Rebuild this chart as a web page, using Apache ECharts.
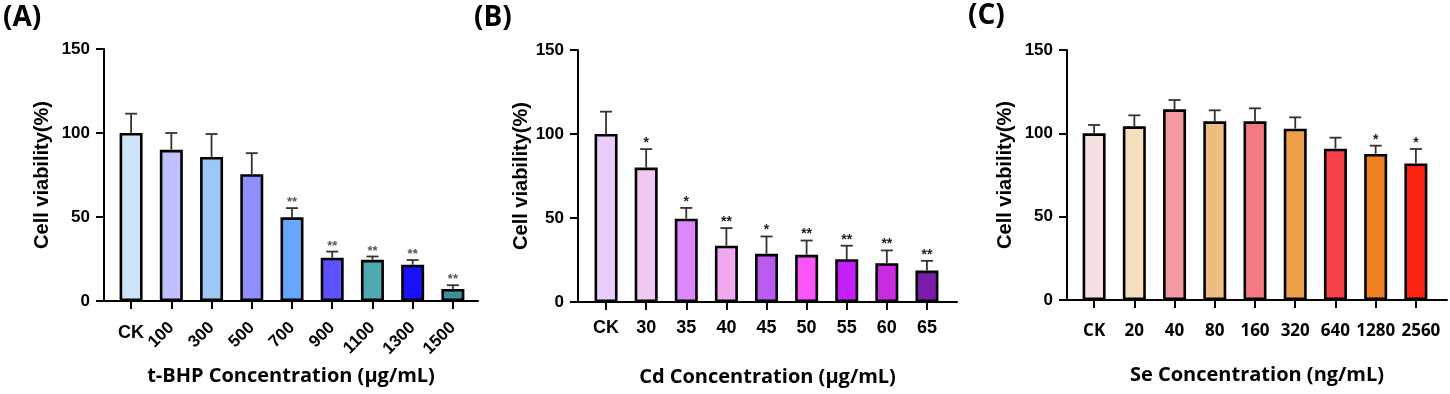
<!DOCTYPE html>
<html>
<head>
<meta charset="utf-8">
<script src="https://cdn.jsdelivr.net/npm/echarts@6/dist/echarts.min.js"></script>
<style>
html,body{margin:0;padding:0;background:#fff;}
#c{width:1450px;height:394px;}
</style>
</head>
<body>
<div id="c"></div>
<script>
// ---------- DATA ----------
const catA = ['CK','100','300','500','700','900','1100','1300','1500'];
const meanA = [100, 90, 85.7, 75.5, 49.8, 25.8, 24.5, 21.6, 7.2];
const sdA = [11.5, 10, 13.7, 12.5, 5.5, 3.6, 2, 2.8, 2.2];
const sigA = ['', '', '', '', '**', '**', '**', '**', '**'];

const catB = ['CK','30','35','40','45','50','55','60','65'];
const meanB = [100, 80, 49.6, 33.5, 28.7, 28.1, 25.5, 23.1, 18.7];
const sdB = [13.3, 11, 6.4, 10.5, 10.3, 8.5, 8, 7.6, 5.8];
const sigB = ['', '*', '*', '**', '*', '**', '**', '**', '**'];

const catC = ['CK','20','40','80','160','320','640','1280','2560'];
const meanC = [100, 104.2, 114.4, 107.2, 107.2, 102.8, 90.8, 87.6, 81.9];
const sdC = [5, 6.6, 5.6, 6.6, 7.8, 6.8, 6.6, 5, 8.7];
const sigC = ['', '', '', '', '', '', '', '*', '*'];

const yTicks = [0, 50, 100, 150];
const yTitle = 'Cell viability(%)';
const xTitleA = 't-BHP Concentration (μg/mL)';
const xTitleB = 'Cd Concentration (μg/mL)';
const xTitleC = 'Se Concentration (ng/mL)';
const panelLabels = ['(A)', '(B)', '(C)'];

// ---------- STYLE ----------
const palA = ['#cfe3f8','#c0c0ff','#9cc7f6','#8f8ffd','#66a6fd','#5c52fe','#4fa9b1','#1a10fb','#3d9098'];
const palB = ['#eacdfb','#f2c9f2','#dc88fb','#f0a9ee','#b95bef','#f955f8','#c41ff8','#c82ce2','#7a1bab'];
const palC = ['#f6dfe1','#f6dfbd','#f29aa1','#eebd81','#f27a83','#eda049','#f4414a','#f08122','#fd2311'];

const ARIAL = '"Liberation Sans", Arial, sans-serif';
const OPEN = '"Open Sans", "Noto Sans", sans-serif';

const panels = [
  {cat:catA, mean:meanA, sd:sdA, sig:sigA, pal:palA, xTitle:xTitleA,
   frame:{left:104, top:49, width:374, height:252}, bars:{left:111, top:49, width:362, height:252},
   rot:true, labelFont:ARIAL, labelSize:17, labelMargin:23, sigColor:'#555', sigSize:13, nameGap:52},
  {cat:catB, mean:meanB, sd:sdB, sig:sigB, pal:palB, xTitle:xTitleB,
   frame:{left:578, top:50, width:379, height:252}, bars:{left:586, top:50, width:361, height:252},
   rot:false, labelFont:ARIAL, labelSize:18, labelMargin:17, sigColor:'#222', sigSize:14, nameGap:46},
  {cat:catC, mean:meanC, sd:sdC, sig:sigC, pal:palC, xTitle:xTitleC,
   frame:{left:1067, top:50, width:380, height:250}, bars:{left:1074, top:50, width:362, height:250},
   rot:false, labelFont:OPEN, labelSize:17, labelMargin:23, sigColor:'#222', sigSize:14, nameGap:52, shiftLast:true}
];

const grid = [], xAxis = [], yAxis = [], series = [];

panels.forEach((p, k) => {
  const gF = grid.length;
  grid.push(Object.assign({containLabel:false}, p.frame));
  const gB = grid.length;
  grid.push(Object.assign({containLabel:false}, p.bars));

  // frame axes
  const xF = xAxis.length;
  xAxis.push({gridIndex:gF, type:'value', min:0, max:1, position:'bottom',
    axisLine:{show:true, lineStyle:{color:'#000', width:2}},
    axisTick:{show:false}, axisLabel:{show:false}, splitLine:{show:false},
    name:p.xTitle, nameLocation:'middle', nameGap:65,
    nameTextStyle:{fontFamily:OPEN, fontWeight:'bold', fontSize:20, color:'#000'}});
  const yF = yAxis.length;
  yAxis.push({gridIndex:gF, type:'value', min:yTicks[0], max:yTicks[yTicks.length-1], interval:yTicks[1]-yTicks[0],
    axisLine:{show:true, lineStyle:{color:'#000', width:2}},
    axisTick:{show:true, length:8, lineStyle:{color:'#000', width:2}},
    axisLabel:{margin:14, fontFamily:ARIAL, fontWeight:'bold', fontSize:17, color:'#000'},
    splitLine:{show:false},
    name:yTitle, nameLocation:'middle', nameRotate:90, nameGap:p.nameGap,
    nameTextStyle:{fontFamily:ARIAL, fontWeight:'bold', fontSize:20, color:'#000'}});
  series.push({type:'scatter', xAxisIndex:xF, yAxisIndex:yF, data:[], silent:true});

  // bar axes
  const xB = xAxis.length;
  const lastCat = p.cat[p.cat.length - 1];
  xAxis.push({gridIndex:gB, type:'category', data:p.cat, position:'bottom', boundaryGap:true,
    axisLine:{show:false},
    axisTick:{show:true, alignWithLabel:true, length:8, lineStyle:{color:'#000', width:2}},
    axisLabel:{interval:0, margin:p.rot ? 24 : p.labelMargin, rotate:p.rot ? 45 : 0,
      fontFamily:p.labelFont, fontWeight:'bold', fontSize:p.labelSize, color:'#000',
      rich:{s:{fontFamily:p.labelFont, fontWeight:'bold', fontSize:p.labelSize, color:'#000', padding:[0,0,0,10]}},
      formatter: p.rot ? (v => v === 'CK' ? '' : v) : (v => (p.shiftLast && v === lastCat) ? '{s|' + v + '}' : v)},
    splitLine:{show:false}});
  if (p.rot) {
    xAxis.push({gridIndex:gB, type:'category', data:p.cat, position:'bottom', boundaryGap:true,
      axisLine:{show:false}, axisTick:{show:false}, splitLine:{show:false},
      axisLabel:{interval:0, margin:p.labelMargin, rotate:0, fontFamily:p.labelFont, fontWeight:'bold',
        fontSize:18, color:'#000', formatter: v => v === 'CK' ? v : ''}});
  }
  const yB = yAxis.length;
  yAxis.push({gridIndex:gB, type:'value', min:yTicks[0], max:yTicks[yTicks.length-1], show:false});

  series.push({type:'bar', xAxisIndex:xB, yAxisIndex:yB, barWidth:23, z:2,
    data:p.mean.map((v, i) => ({value:v, itemStyle:{color:p.pal[i], borderColor:'#000', borderWidth:2.6}})),
    silent:true});

  const sig = p.sig;
  series.push({type:'custom', xAxisIndex:xB, yAxisIndex:yB, z:3, silent:true,
    data:p.mean.map((v, i) => [i, v, p.sd[i]]),
    renderItem:function(params, api){
      const i = api.value(0), m = api.value(1), s = api.value(2);
      const b = api.coord([i, m]);
      const t = api.coord([i, m + s]);
      const cap = 6;
      const st = {stroke:'#333', lineWidth:1.8};
      return {type:'group', children:[
        {type:'line', shape:{x1:b[0], y1:b[1], x2:t[0], y2:t[1]}, style:st},
        {type:'line', shape:{x1:t[0]-cap, y1:t[1], x2:t[0]+cap, y2:t[1]}, style:st},
        {type:'text', x:t[0], y:t[1]+1, style:{text:sig[params.dataIndex], align:'center', verticalAlign:'bottom',
          font:'bold ' + p.sigSize + 'px ' + ARIAL, fill:p.sigColor}}
      ]};
    }});
});

const chart = echarts.init(document.getElementById('c'), null, {renderer:'canvas'});
chart.setOption({
  animation:false,
  backgroundColor:'#fff',
  grid:grid, xAxis:xAxis, yAxis:yAxis, series:series,
  graphic:[
    {type:'text', left:3, top:4, style:{text:panelLabels[0], font:'bold 28px ' + OPEN, fill:'#000'}},
    {type:'text', left:474, top:4, style:{text:panelLabels[1], font:'bold 28px ' + OPEN, fill:'#000'}},
    {type:'text', left:968, top:2, style:{text:panelLabels[2], font:'bold 28px ' + OPEN, fill:'#000'}}
  ]
});
</script>
</body>
</html>
